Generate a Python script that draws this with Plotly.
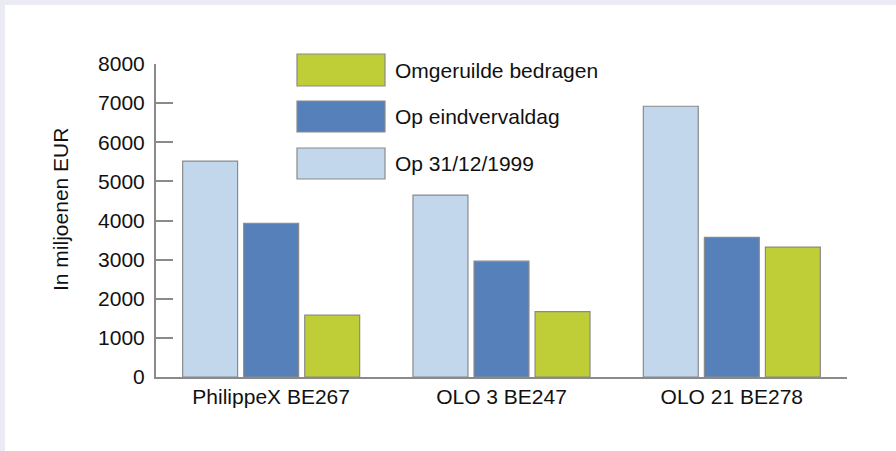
import plotly.graph_objects as go

categorias = ['PhilippeX BE267', 'OLO 3 BE247', 'OLO 21 BE278']
op_31_12_1999 = [5520, 4650, 6920]
op_eindvervaldag = [3930, 2960, 3570]
omgeruilde_bedragen = [1580, 1670, 3320]

series = [
    ('Op 31/12/1999', op_31_12_1999, '#C3D7EC'),
    ('Op eindvervaldag', op_eindvervaldag, '#5580BA'),
    ('Omgeruilde bedragen', omgeruilde_bedragen, '#BFCD36'),
]

W, H = 896, 451
ML, MR, MT, MB = 156, 49, 64, 74
FONT = 'Liberation Sans, Arial, sans-serif'
GRIS = '#8A8A8A'
FS = 21

fig = go.Figure()
for nome, valores, cor in series:
    fig.add_trace(go.Bar(
        x=categorias, y=valores, name=nome,
        marker=dict(color=cor, line=dict(color=GRIS, width=1.2)),
        showlegend=False,
    ))

# conversao pixel -> coordenadas paper
pw = W - ML - MR
ph = H - MT - MB
def px_x(p):
    return (p - ML) / pw
def px_y(p):
    return (H - MB - p) / ph

# legenda manual (caixas grandes como no original)
shapes = []
annotations = []
caixas = [(54, 86), (101, 132), (148, 179)]
for (nome, valores, cor), (y0, y1) in zip(reversed(series), caixas):
    shapes.append(dict(type='rect', xref='paper', yref='paper',
                       x0=px_x(297), x1=px_x(385), y0=px_y(y1), y1=px_y(y0),
                       fillcolor=cor, line=dict(color=GRIS, width=1.2)))
    annotations.append(dict(text=nome, xref='paper', yref='paper',
                            x=px_x(393), y=px_y((y0 + y1) / 2),
                            xanchor='left', yanchor='middle', showarrow=False,
                            font=dict(size=FS, color='#111111', family=FONT)))

# faixas lilas no topo e na esquerda
shapes.append(dict(type='rect', xref='paper', yref='paper', layer='below',
                   x0=px_x(0), x1=px_x(W), y0=px_y(5), y1=px_y(0),
                   fillcolor='#EBEBF5', line=dict(width=0)))
shapes.append(dict(type='rect', xref='paper', yref='paper', layer='below',
                   x0=px_x(0), x1=px_x(5), y0=px_y(H), y1=px_y(0),
                   fillcolor='#EBEBF5', line=dict(width=0)))

annotations.append(dict(text='In miljoenen EUR', xref='paper', yref='paper',
                        x=px_x(61), y=px_y(210), textangle=-90,
                        xanchor='center', yanchor='middle', showarrow=False,
                        font=dict(size=FS, color='#111111', family=FONT)))

fig.update_layout(
    width=W, height=H,
    margin=dict(l=ML, r=MR, t=MT, b=MB),
    paper_bgcolor='white', plot_bgcolor='white',
    barmode='group', bargap=0.205, bargroupgap=0.1,
    font=dict(family=FONT, size=FS, color='#111111'),
    shapes=shapes, annotations=annotations,
)
fig.update_yaxes(range=[0, 8000], dtick=1000, showgrid=False, zeroline=False,
                 showline=True, linecolor=GRIS, linewidth=2,
                 ticks='inside', ticklen=17, tickwidth=2, tickcolor=GRIS,
                 ticklabelstandoff=5, tickfont=dict(size=FS))
fig.update_xaxes(showgrid=False, showline=True, linecolor=GRIS, linewidth=2,
                 ticks='', tickfont=dict(size=FS))

# sem margem do body para o grafico ficar no canto da pagina
fig.write_html("out.html", config={'displayModeBar': False},
               post_script="document.body.style.margin='0';")
